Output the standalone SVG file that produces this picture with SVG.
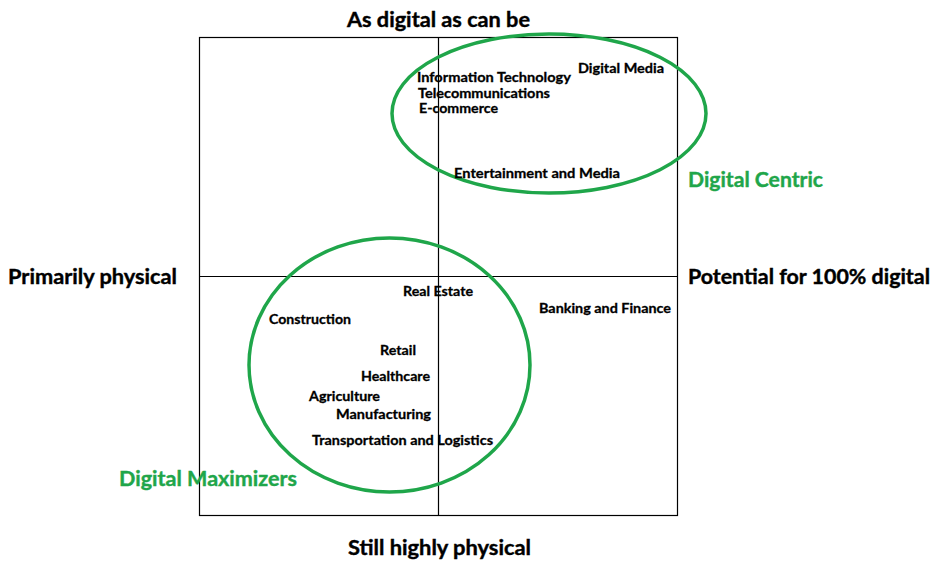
<svg xmlns="http://www.w3.org/2000/svg" width="941" height="564" viewBox="0 0 941 564">
<style>
text{font-family:Lato,"Open Sans","Liberation Sans",sans-serif;font-weight:bold;fill:#000;stroke:#000;stroke-width:0.3}
.ax{font-size:20.5px;stroke-width:0.4}
.lb{font-size:13.5px}
.gr{font-size:20.5px;fill:#1fa64a;stroke:#1fa64a;stroke-width:0.4}
.ell{fill:none;stroke:#1fa64a;stroke-width:3.5}
.ln{stroke:#000;stroke-width:1.2;fill:none}
</style>
<rect width="941" height="564" fill="#fff"/>
<g id="connectors">
<rect class="ln" x="199.5" y="37.5" width="478" height="478" stroke="#1c2540"/>
<line class="ln" x1="438.5" y1="37.5" x2="438.5" y2="515.5"/>
<line class="ln" x1="199.5" y1="276.5" x2="677.5" y2="276.5"/>
</g>
<g id="axes">
<text class="ax" x="347" y="27" textLength="183" lengthAdjust="spacingAndGlyphs">As digital as can be</text>
<text class="ax" x="8" y="284" textLength="169" lengthAdjust="spacingAndGlyphs">Primarily physical</text>
<text class="ax" x="688" y="284" textLength="242" lengthAdjust="spacingAndGlyphs">Potential for 100% digital</text>
<text class="ax" x="348" y="555" textLength="183" lengthAdjust="spacingAndGlyphs">Still highly physical</text>
</g>
<g id="digital-centric">
<ellipse class="ell" cx="549" cy="113.5" rx="157" ry="79.5"/>
<text class="gr" x="688" y="187" textLength="135" lengthAdjust="spacingAndGlyphs">Digital Centric</text>
</g>
<g id="digital-maximizers">
<ellipse class="ell" cx="389.5" cy="365" rx="140.5" ry="127"/>
<text class="gr" x="119" y="486" textLength="178" lengthAdjust="spacingAndGlyphs">Digital Maximizers</text>
</g>
<g id="industries">
<text class="lb" x="417" y="81.5" textLength="154" lengthAdjust="spacingAndGlyphs">Information Technology</text>
<text class="lb" x="418" y="97.5" textLength="132" lengthAdjust="spacingAndGlyphs">Telecommunications</text>
<text class="lb" x="419" y="113" textLength="79" lengthAdjust="spacingAndGlyphs">E-commerce</text>
<text class="lb" x="578" y="73" textLength="86" lengthAdjust="spacingAndGlyphs">Digital Media</text>
<text class="lb" x="454" y="178" textLength="166" lengthAdjust="spacingAndGlyphs">Entertainment and Media</text>
<text class="lb" x="403" y="296" textLength="70" lengthAdjust="spacingAndGlyphs">Real Estate</text>
<text class="lb" x="269" y="324" textLength="82" lengthAdjust="spacingAndGlyphs">Construction</text>
<text class="lb" x="539" y="313" textLength="132" lengthAdjust="spacingAndGlyphs">Banking and Finance</text>
<text class="lb" x="380" y="355" textLength="36" lengthAdjust="spacingAndGlyphs">Retail</text>
<text class="lb" x="361" y="381" textLength="69" lengthAdjust="spacingAndGlyphs">Healthcare</text>
<text class="lb" x="309" y="401" textLength="71" lengthAdjust="spacingAndGlyphs">Agriculture</text>
<text class="lb" x="336" y="419" textLength="95" lengthAdjust="spacingAndGlyphs">Manufacturing</text>
<text class="lb" x="312" y="445" textLength="181" lengthAdjust="spacingAndGlyphs">Transportation and Logistics</text>
</g>
</svg>
